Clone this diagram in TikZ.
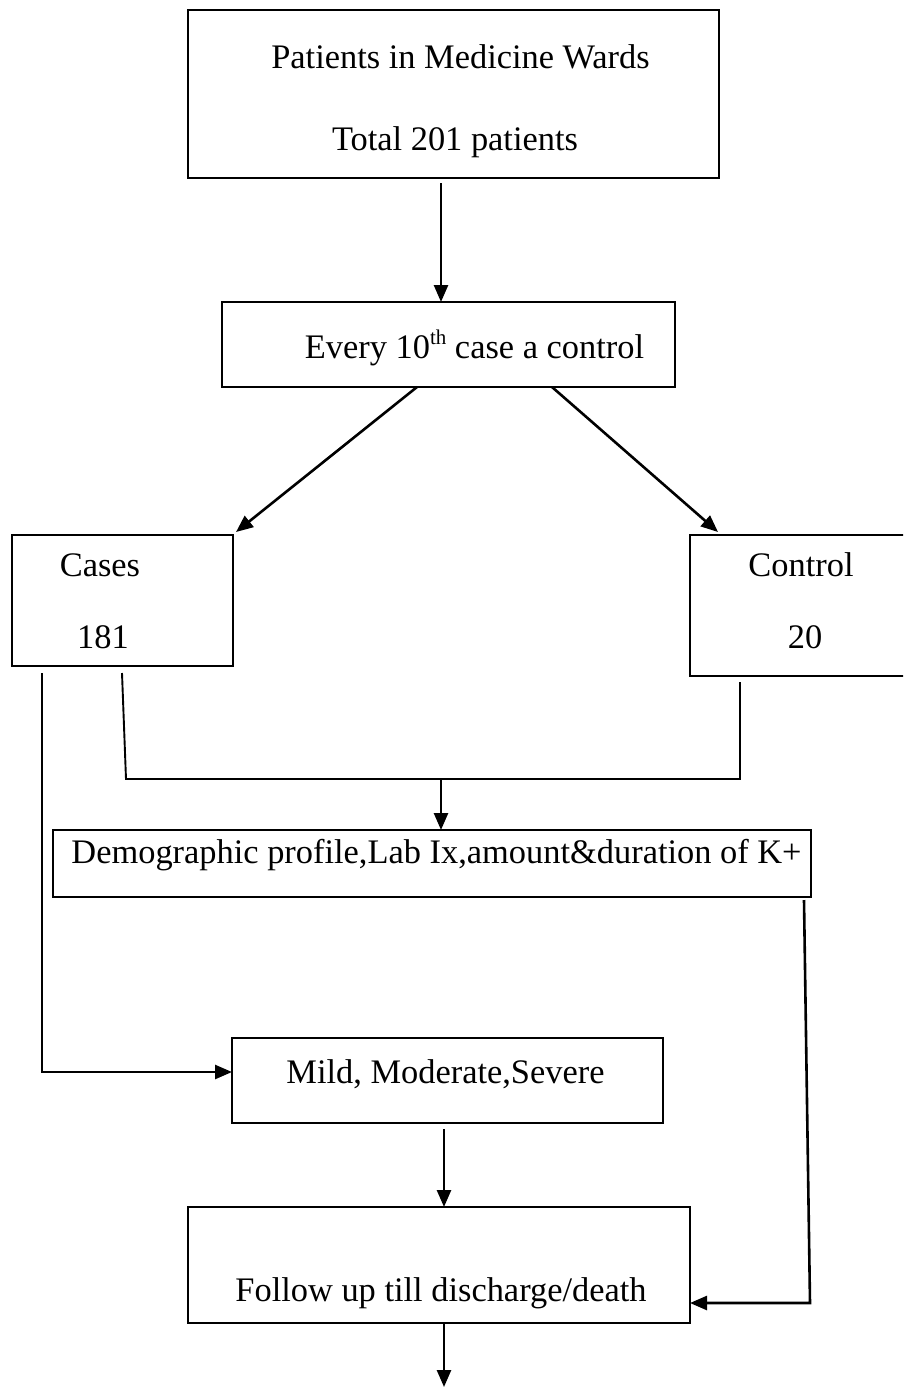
\documentclass[tikz,border=0pt]{standalone}
\usepackage{fontspec}
\setmainfont{Liberation Serif}
\usetikzlibrary{arrows.meta}
\begin{document}
\begin{tikzpicture}[x=1pt,y=-1pt,
  box/.style={draw, line width=2.2pt, rectangle, inner sep=0pt, outer sep=0pt},
  lbl/.style={inner sep=0pt, anchor=base, font=\fontsize{34.4pt}{40pt}\selectfont},
  arr/.style={line width=2.6pt, -{Triangle[length=17pt,width=14pt]}},
  thin/.style={line width=1.9pt}]
\path[use as bounding box] (0,0) rectangle (903,1387);
\clip (0,0) rectangle (903,1387);
% boxes
\node[box, minimum width=531pt, minimum height=168pt] (top) at (453.5,94) {};
\node[box, minimum width=453pt, minimum height=85pt] (every) at (448.5,344.5) {};
\node[box, minimum width=221pt, minimum height=131pt] (cases) at (122.5,600.5) {};
\node[box, minimum width=225pt, minimum height=141pt] (control) at (802.5,605.5) {};
\node[box, minimum width=758pt, minimum height=67pt] (demo) at (432,863.5) {};
\node[box, minimum width=431pt, minimum height=85pt] (mild) at (447.5,1080.5) {};
\node[box, minimum width=502pt, minimum height=116pt] (follow) at (439,1265) {};
% texts
\node[lbl] (t1) at (460.5,68) {Patients in Medicine Wards};
\node[lbl] (t2) at (455,150) {Total 201 patients};
\node[lbl] (t3) at (474.5,358) {Every 10\raisebox{14pt}{\fontsize{21pt}{23pt}\selectfont th} case a control};
\node[lbl] (t4) at (100,576) {Cases};
\node[lbl] (t5) at (103,648) {181};
\node[lbl] (t6) at (801,576) {Control};
\node[lbl] (t7) at (805,648) {20};
\node[lbl] (t8) at (436.5,863) {Demographic profile,Lab Ix,amount\&duration of K+};
\node[lbl] (t9) at (445.5,1083) {Mild, Moderate,Severe};
\node[lbl] (t10) at (441,1301) {Follow up till discharge/death};
% connector points
\coordinate (a1) at (441,183);
\coordinate (d1) at (417,387);
\coordinate (d1e) at (236,532);
\coordinate (d2) at (552,387);
\coordinate (d2e) at (718,532);
\coordinate (l1) at (42,673);
\coordinate (l2) at (42,1072);
\coordinate (s1) at (122,673);
\coordinate (s2) at (126,779);
\coordinate (s3) at (740,779);
\coordinate (s4) at (740,682);
\coordinate (m1) at (441,779);
\coordinate (r1) at (804,900);
\coordinate (r2) at (810,1303);
\coordinate (f1) at (444,1129);
\coordinate (b1) at (444,1323);
\coordinate (b2) at (444,1387);
% connectors
\draw[arr] (a1) -- (a1 |- every.north);
\draw[arr] (d1) -- (d1e);
\draw[arr] (d2) -- (d2e);
\draw[arr] (l1) -- (l2) -- (l2 -| mild.west);
\draw[thin] (s1) -- (s2) -- (s3) -- (s4);
\draw[arr] (m1) -- (m1 |- demo.north);
\draw[arr] (r1) -- (r2) -- (r2 -| follow.east);
\draw[arr] (f1) -- (f1 |- follow.north);
\draw[arr] (b1) -- (b2);
\end{tikzpicture}
\end{document}
